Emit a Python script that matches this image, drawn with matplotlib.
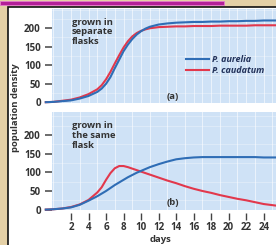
import matplotlib
matplotlib.use('Agg')
import matplotlib.pyplot as plt
from matplotlib.patches import Rectangle
from matplotlib.lines import Line2D

plt.rcParams['font.family'] = ['Open Sans', 'DejaVu Sans']

days = [-1, 0, 1, 2, 3, 4, 5, 5.5, 6, 6.5, 7, 7.5, 8, 8.5, 9, 9.5, 10, 10.5,
        11, 12, 13, 14, 15, 16, 17, 18, 19, 20, 21, 22, 23, 24, 25, 26]

# grown in separate flasks
aurelia_sep = [0, 1, 3, 5, 10, 17, 28, 37, 50, 68, 92, 115, 138, 156, 171, 183, 192, 199,
               204, 210, 213, 215, 216, 217, 217, 218, 218, 219, 219, 220, 220, 221, 221, 221]
caudatum_sep = [0, 1, 4, 7, 13, 22, 35, 46, 62, 82, 105, 127, 148, 165, 178, 187, 193, 197,
                200, 203, 204, 205, 205, 206, 206, 206, 207, 207, 207, 207, 208, 208, 208, 208]

# grown in the same flask
aurelia_same = [0, 1, 3, 6, 13, 24, 36, 43, 50, 58, 66, 73, 80, 87, 93, 99, 104, 109,
                114, 122, 129, 135, 138, 140, 141, 141, 141, 141, 141, 141, 141, 140, 140, 140]
caudatum_same = [0, 1, 3, 7, 14, 26, 46, 60, 80, 98, 111, 117, 117, 114, 110, 106, 102, 98,
                 94, 86, 78, 71, 63, 56, 50, 45, 39, 34, 29, 25, 20, 15, 12, 9]

yticks = [0, 50, 100, 150, 200]
xticks = [2, 4, 6, 8, 10, 12, 14, 16, 18, 20, 22, 24]

W, H = 276, 245
fig = plt.figure(figsize=(W / 100, H / 100), dpi=100)
fig.patch.set_facecolor('#e4d0a6')


def fx(px):
    return px / W


def fy(py):
    return 1 - py / H


# white frame + magenta stripe
fig.patches.append(Rectangle((fx(8), -0.1), 1, fy(7) + 0.1, transform=fig.transFigure,
                             facecolor='white', edgecolor='#111111', lw=1.2, zorder=-5))
fig.patches.append(Rectangle((0, fy(5)), fx(224), 4 / H, transform=fig.transFigure,
                             facecolor='#b31f98', edgecolor='#e27ccc', lw=0.6, zorder=-4))

blue = '#2f6db5'
red = '#e2384c'
panel = '#cfe2f6'
txt = '#333333'
fnt = dict(fontsize=6.8, fontweight='bold', color=txt)
tfnt = dict(fontsize=7, fontweight='bold', color=txt)

ax1 = fig.add_axes([fx(52), fy(103), fx(224), (103 - 9) / H])
ax2 = fig.add_axes([fx(52), fy(210), fx(224), (210 - 112) / H])

for ax, a, c, ylim in [(ax1, aurelia_sep, caudatum_sep, (-2, 252)),
                       (ax2, aurelia_same, caudatum_same, (-1, 262))]:
    ax.set_facecolor(panel)
    for s in ax.spines.values():
        s.set_visible(False)
    ax.spines['bottom'].set_position(('outward', 2))
    ax.plot(days, c, color=red, lw=1.5, clip_on=False, solid_capstyle='butt', zorder=3)
    ax.plot(days, a, color=blue, lw=1.5, clip_on=False, solid_capstyle='butt', zorder=3)
    ax.set_xlim(-0.17, 25.4)
    ax.set_ylim(*ylim)
    ax.set_yticks(yticks)
    ax.set_yticklabels([str(v) for v in yticks], **tfnt)
    ax.tick_params(axis='y', length=5, width=1.1, color='#444444', pad=3)
    ax.set_xticks(range(0, 26), minor=True)
    ax.set_yticks(range(0, 260, 25), minor=True)
    ax.grid(which='minor', axis='x', color='white', lw=0.7, alpha=0.6)
    ax.grid(which='minor', axis='y', color='white', lw=0.6, alpha=0.35)
    ax.tick_params(which='minor', length=0)

ax1.set_xticks([])
ax2.set_xticks(xticks)
ax2.set_xticklabels([str(v) for v in xticks], **tfnt)
ax2.tick_params(axis='x', length=5, width=1.0, color='#444444', pad=1.5)

ax1.text(2.1, 229, 'grown in\nseparate\nflasks', va='top', ha='left', linespacing=1.1, **fnt)
ax2.text(2.1, 237, 'grown in\nthe same\nflask', va='top', ha='left', linespacing=1.1, **fnt)
ax1.text(13.6, 15, '(a)', ha='center', va='center', **fnt)
ax2.text(13.6, 18, '(b)', ha='center', va='center', **fnt)

handles = [Line2D([], [], color=blue, lw=1.5), Line2D([], [], color=red, lw=1.5)]
leg = ax1.legend(handles, ['P. aurelia', 'P. caudatum'], loc='upper left',
                 bbox_to_anchor=(fx(186), fy(55)), bbox_transform=fig.transFigure,
                 frameon=False, handlelength=2.6, handletextpad=0.3, labelspacing=0.2,
                 borderpad=0, borderaxespad=0,
                 prop=dict(size=6.5, style='italic', weight='bold'))
for t in leg.get_texts():
    t.set_color('#23325a')

fig.text(fx(160), fy(239), 'days', ha='center', va='center', **fnt)
fig.text(fx(16), fy(108), 'population density', ha='center', va='center',
         rotation=90, **fnt)

fig.savefig('out.png', dpi=100)
